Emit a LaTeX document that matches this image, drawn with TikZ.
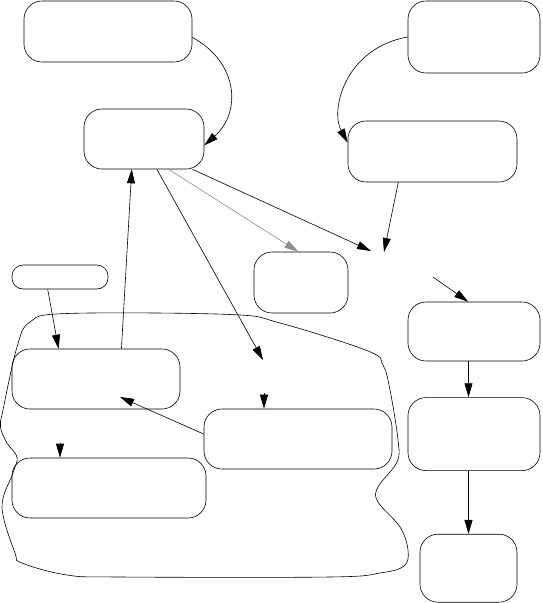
\documentclass[tikz,border=0pt]{standalone}
\usepackage{tikz}
\usetikzlibrary{shapes,arrows.meta,positioning}

\begin{document}
\begin{tikzpicture}[
    x=1pt, y=-1pt,
    node distance=36pt,
    box/.style={rectangle, draw=black, line width=0.6pt, rounded corners=18pt,
                inner sep=0pt},
    arr/.style={-{Triangle[length=14pt,width=8pt]}, line width=0.6pt, draw=black},
  ]
  \useasboundingbox (0,0) rectangle (542,603);

  % boxes
  \node[box, minimum width=168pt, minimum height=61pt] (A) at (108,31.5) {};
  \node[box, minimum width=120pt, minimum height=60pt] (B) at (144,139) {};
  \node[box, minimum width=132pt, minimum height=72pt] (C) at (474,37) {};
  \node[box, minimum width=169pt, minimum height=61pt] (D) at (432.5,151.5) {};
  \node[box, minimum width=96pt, minimum height=24pt, rounded corners=11pt] (E) at (60,277) {};
  \node[box, minimum width=94pt, minimum height=61pt] (I) at (301,282.5) {};
  \node[box, minimum width=168pt, minimum height=60pt] (F) at (96,379) {};
  \node[box, minimum width=188pt, minimum height=60pt] (G) at (298,439) {};
  \node[box, minimum width=194pt, minimum height=60pt] (H) at (109,488) {};
  \node[box, minimum width=132pt, minimum height=59pt] (J) at (474,331.5) {};
  \node[box, minimum width=132pt, minimum height=73pt, below=of J] (K) {};
  \node[box, minimum width=97pt, minimum height=68pt, below=63pt of K, xshift=-5.5pt] (L) {};

  % outline round the lower left group
  \draw[line width=0.6pt] plot[smooth cycle, tension=0.6] coordinates {
    (30,322) (67,313.5) (230,314.5) (280,323) (368,351) (383,365) (390,390)
    (398,440) (397,462) (378,487) (378,502) (400,527) (408,550) (404,566)
    (380,573) (330,577) (120,577) (67,575) (22,563) (15,553) (2,507)
    (13,473) (17,457) (7,443) (0.5,427) (3,410) (17,347)};

  % loose ends
  \coordinate (d1) at (384,252);
  \coordinate (d2) at (371,251);
  \coordinate (d3) at (263,360);
  \coordinate (d4) at (433,277);
  \coordinate (d5) at (120,397);
  \coordinate (t1) at (264,393);
  \coordinate (t2) at (60,443);

  % connectors
  \draw[arr] (A.-4) .. controls (238,62) and (242,112) .. (B.-6);
  \draw[arr] (C.west) .. controls (345,48) and (330,110) .. (D.174);
  \draw[arr] (D.-138) -- (d1);
  \draw[arr, draw=black!45] (B.-51) -- (I.95);
  \draw[arr] (B.-32) -- (d2);
  \draw[arr] (B.-67) -- (d3);
  \draw[arr] (F.50) -- (B.-112);
  \draw[arr] (E.-135) -- (F.141);
  \draw[arr] (d4) -- (J.101);
  \draw[arr] (J.south -| L.north) -- (K.north -| L.north);
  \draw[arr] (K.south -| L.north) -- (L.north);
  \draw[arr] (G.177) -- (d5);
  \draw[arr] (t1) -- (t1 |- G.north);
  \draw[arr] (t2) -- (t2 |- H.north);
\end{tikzpicture}
\end{document}
